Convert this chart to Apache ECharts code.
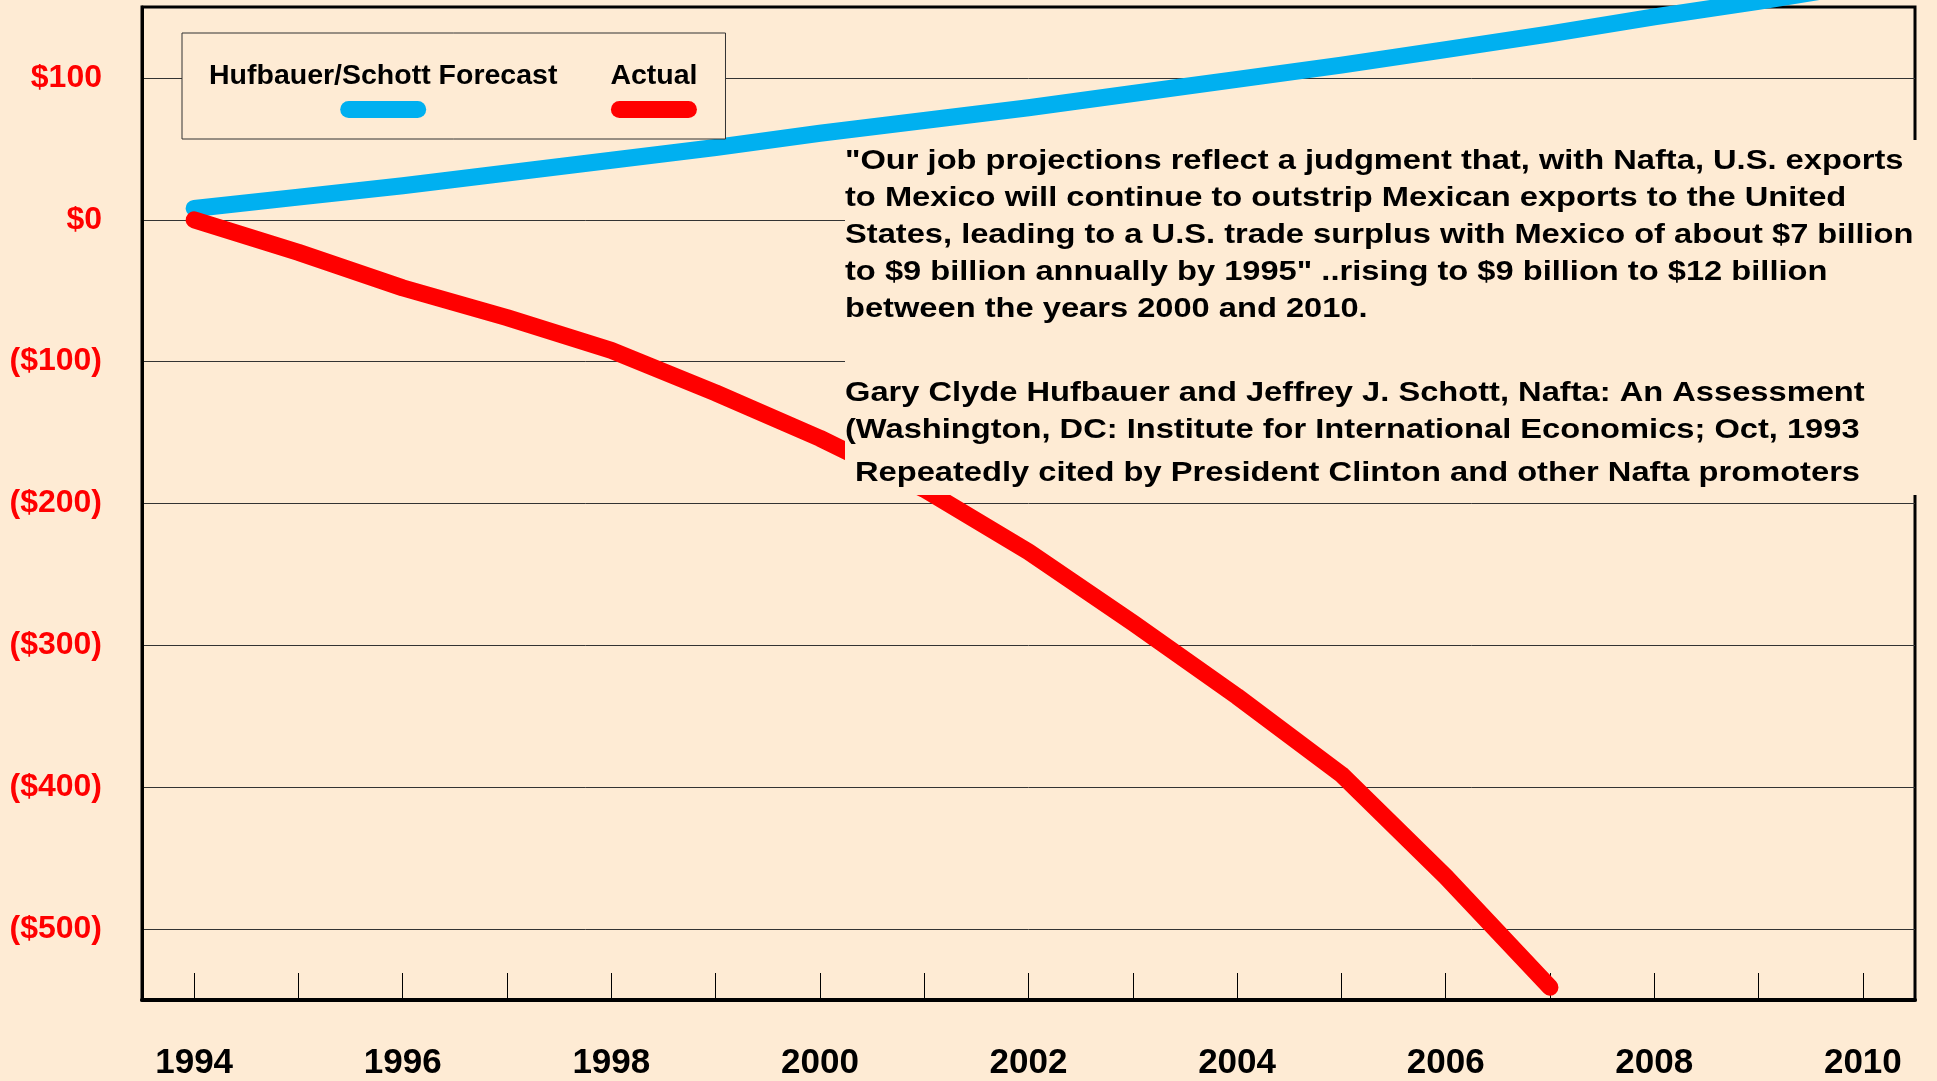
<!DOCTYPE html>
<html>
<head>
<meta charset="utf-8">
<script src="https://cdn.jsdelivr.net/npm/echarts@6/dist/echarts.min.js"></script>
<style>
html,body{margin:0;padding:0;background:#FEEBD4;}
#chart{width:1937px;height:1081px;}
</style>
</head>
<body>
<div id="chart"></div>
<script>
var years = ['1994','1995','1996','1997','1998','1999','2000','2001','2002','2003','2004','2005','2006','2007','2008','2009','2010'];
var forecastName = 'Hufbauer/Schott Forecast';
var actualName = 'Actual';
var forecast = [8, 16, 24, 33, 42, 51, 61, 70, 79, 89, 99, 109, 120, 131, 143, 154, 166];
var actual = [0, -23, -48, -69, -92, -122, -154, -190, -234, -284, -336, -391, -463, -541];
var quoteText = '"Our job projections reflect a judgment that, with Nafta, U.S. exports\nto Mexico will continue to outstrip Mexican exports to the United\nStates, leading to a U.S. trade surplus with Mexico of about $7 billion\nto $9 billion annually by 1995" ..rising to $9 billion to $12 billion\nbetween the years 2000 and 2010.';
var citeText = 'Gary Clyde Hufbauer and Jeffrey J. Schott, Nafta: An Assessment\n(Washington, DC: Institute for International Economics; Oct, 1993';
var noteText = 'Repeatedly cited by President Clinton and other Nafta promoters';

var BG = '#FEEBD4';
var FONT = "'Liberation Sans', Arial, sans-serif";
var chart = echarts.init(document.getElementById('chart'));

function yFmt(v) {
  if (v % 100 !== 0) return '';
  return v < 0 ? '($' + (-v) + ')' : '$' + v;
}

var textStretch = 1.166;

chart.setOption({
  backgroundColor: BG,
  animation: false,
  textStyle: { fontFamily: FONT },
  grid: {
    left: 142, right: 22, top: 7, bottom: 79,
    show: true, borderColor: '#000', borderWidth: 3, backgroundColor: 'transparent'
  },
  legend: {
    data: [forecastName, actualName],
    left: 182, top: 33,
    padding: [29, 28, 21, 21],
    itemGap: 47,
    itemWidth: 0, itemHeight: 0,
    borderColor: '#333', borderWidth: 1,
    backgroundColor: BG,
    selectedMode: false,
    formatter: function (name) {
      return '{t|' + name + '}\n' + (name === actualName ? '{r|}' : '{b|}');
    },
    textStyle: {
      rich: {
        t: { fontSize: 28.5, fontWeight: 'bold', color: '#000', fontFamily: FONT, lineHeight: 36, align: 'center' },
        b: { width: 86, height: 17, backgroundColor: '#00B0F0', borderRadius: 8.5, lineHeight: 30, align: 'center' },
        r: { width: 86, height: 17, backgroundColor: '#FF0000', borderRadius: 8.5, lineHeight: 30, align: 'center' }
      }
    }
  },
  xAxis: {
    type: 'category',
    data: years,
    boundaryGap: true,
    axisLine: { show: true, onZero: false, lineStyle: { color: '#000', width: 4 } },
    axisTick: { show: true, inside: true, length: 27, alignWithLabel: true, interval: 0, lineStyle: { color: '#000', width: 1 } },
    axisLabel: { interval: 1, fontSize: 35, fontWeight: 'bold', color: '#000', margin: 46, fontFamily: FONT },
    splitLine: { show: false }
  },
  yAxis: {
    type: 'value',
    min: -550, max: 150, interval: 50,
    axisLine: { show: true, lineStyle: { color: '#000', width: 3 } },
    axisTick: { show: false },
    axisLabel: { formatter: yFmt, fontSize: 32, fontWeight: 'bold', color: '#FF0000', margin: 40, fontFamily: FONT },
    splitLine: { show: true, lineStyle: { color: ['transparent', '#333'], width: 1 } }
  },
  series: [
    {
      name: forecastName, type: 'line', data: forecast, symbol: 'none', z: 3,
      itemStyle: { color: '#00B0F0' },
      lineStyle: { color: '#00B0F0', width: 17, cap: 'round', join: 'round' }
    },
    {
      name: actualName, type: 'line', data: actual, symbol: 'none', z: 4,
      itemStyle: { color: '#FF0000' },
      lineStyle: { color: '#FF0000', width: 17, cap: 'round', join: 'round' }
    }
  ],
  graphic: [
    { type: 'rect', z: 50, shape: { x: 845, y: 140, width: 1082, height: 355 }, style: { fill: BG } },
    { type: 'text', z: 51, x: 845, y: 142.5, scaleX: textStretch,
      style: { text: quoteText, fontSize: 28, fontWeight: 'bold', fontFamily: FONT, fill: '#000', lineHeight: 37, verticalAlign: 'top', align: 'left' } },
    { type: 'text', z: 51, x: 845, y: 374.5, scaleX: textStretch,
      style: { text: citeText, fontSize: 28, fontWeight: 'bold', fontFamily: FONT, fill: '#000', lineHeight: 37, verticalAlign: 'top', align: 'left' } },
    { type: 'text', z: 51, x: 855, y: 454.5, scaleX: textStretch,
      style: { text: noteText, fontSize: 28, fontWeight: 'bold', fontFamily: FONT, fill: '#000', lineHeight: 37, verticalAlign: 'top', align: 'left' } }
  ]
});
</script>
</body>
</html>
